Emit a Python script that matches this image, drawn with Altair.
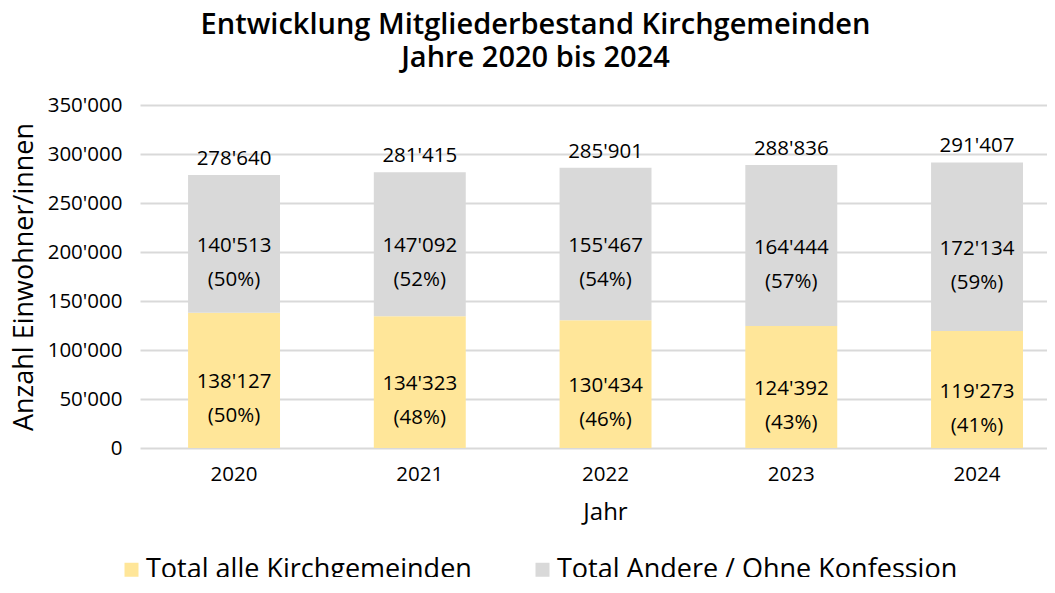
import altair as alt
import pandas as pd

years = ["2020", "2021", "2022", "2023", "2024"]
kirch = [138127, 134323, 130434, 124392, 119273]
andere = [140513, 147092, 155467, 164444, 172134]
totals = [278640, 281415, 285901, 288836, 291407]
kirch_pct = ["(50%)", "(48%)", "(46%)", "(43%)", "(41%)"]
andere_pct = ["(50%)", "(52%)", "(54%)", "(57%)", "(59%)"]
series = ["Total alle Kirchgemeinden", "Total Andere / Ohne Konfession"]
colors = ["#FFE699", "#D9D9D9"]
y_ticks = [0, 50000, 100000, 150000, 200000, 250000, 300000, 350000]

FONT = "Open Sans"

rows = []
for i, yr in enumerate(years):
    rows.append({"Jahr": yr, "Serie": series[0], "ord": 0, "val": kirch[i],
                 "lo": 0, "hi": kirch[i], "pct": kirch_pct[i]})
    rows.append({"Jahr": yr, "Serie": series[1], "ord": 1, "val": andere[i],
                 "lo": kirch[i], "hi": kirch[i] + andere[i], "pct": andere_pct[i]})
df = pd.DataFrame(rows)
df["mid"] = (df["lo"] + df["hi"]) / 2
tot = pd.DataFrame({"Jahr": years, "total": totals})

xscale = alt.Scale(domain=years, paddingInner=0.505, paddingOuter=0.194, align=0.667)
yscale = alt.Scale(domain=[0, 350000], nice=False)

x = alt.X("Jahr:N", scale=xscale, sort=years,
          axis=alt.Axis(title="Jahr", labelAngle=0, labelFontSize=20.5, labelPadding=16,
                        titleFontSize=24, titleFontWeight="normal", titlePadding=16,
                        titleX=465, domain=False, ticks=False, grid=False,
                        labelColor="#000", titleColor="#000"))

bars = alt.Chart(df).mark_bar().encode(
    x=x,
    y=alt.Y("lo:Q", scale=yscale,
            axis=alt.Axis(title="Anzahl Einwohner/innen", values=y_ticks, format=",d",
                          labelFontSize=20.5, labelPadding=18, titleFontSize=27,
                          titleFontWeight="normal", titlePadding=9, domain=False,
                          ticks=False, grid=True, gridColor="#D9D9D9", gridWidth=2,
                          labelColor="#000", titleColor="#000")),
    y2="hi:Q",
    color=alt.Color("Serie:N", scale=alt.Scale(domain=series, range=colors),
                    legend=alt.Legend(title=None, orient="none", direction="horizontal",
                                      legendX=-22, legendY=451, symbolType="square",
                                      symbolSize=196, symbolStrokeWidth=0,
                                      labelFontSize=27, labelColor="#000", labelLimit=0,
                                      columnPadding=57, labelOffset=1, padding=0)),
)

vals = alt.Chart(df).mark_text(fontSize=20.5, baseline="middle", dy=2, color="#000").encode(
    x=alt.X("Jahr:N", scale=xscale, sort=years),
    y=alt.Y("mid:Q", scale=yscale),
    text=alt.Text("val:Q", format=",d"),
)
pcts = alt.Chart(df).mark_text(fontSize=20.5, baseline="middle", dy=36, color="#000").encode(
    x=alt.X("Jahr:N", scale=xscale, sort=years),
    y=alt.Y("mid:Q", scale=yscale),
    text="pct:N",
)
tots = alt.Chart(tot).mark_text(fontSize=20.5, baseline="middle", dy=-16, color="#000").encode(
    x=alt.X("Jahr:N", scale=xscale, sort=years),
    y=alt.Y("total:Q", scale=yscale),
    text=alt.Text("total:Q", format=",d"),
)

chart = alt.layer(bars, vals, pcts, tots).properties(
    width=907, height=343,
    autosize=alt.AutoSizeParams(type="none"),
    padding={"left": 132, "top": 97, "right": 0, "bottom": 129},
    title=alt.TitleParams(text=["Entwicklung Mitgliederbestand Kirchgemeinden", "Jahre 2020 bis 2024"],
                          fontSize=29, fontWeight=600, anchor="middle", dx=-58, offset=22,
                          lineHeight=33, color="#000"),
).configure(
    font=FONT,
    locale={"number": {"decimal": ".", "thousands": "'", "grouping": [3], "currency": ["", ""]}},
).configure_view(stroke=None).configure_title(font=FONT).configure_axis(labelFont=FONT, titleFont=FONT).configure_legend(labelFont=FONT)

chart.save("out.html", embed_options={"renderer": "svg", "actions": False})
